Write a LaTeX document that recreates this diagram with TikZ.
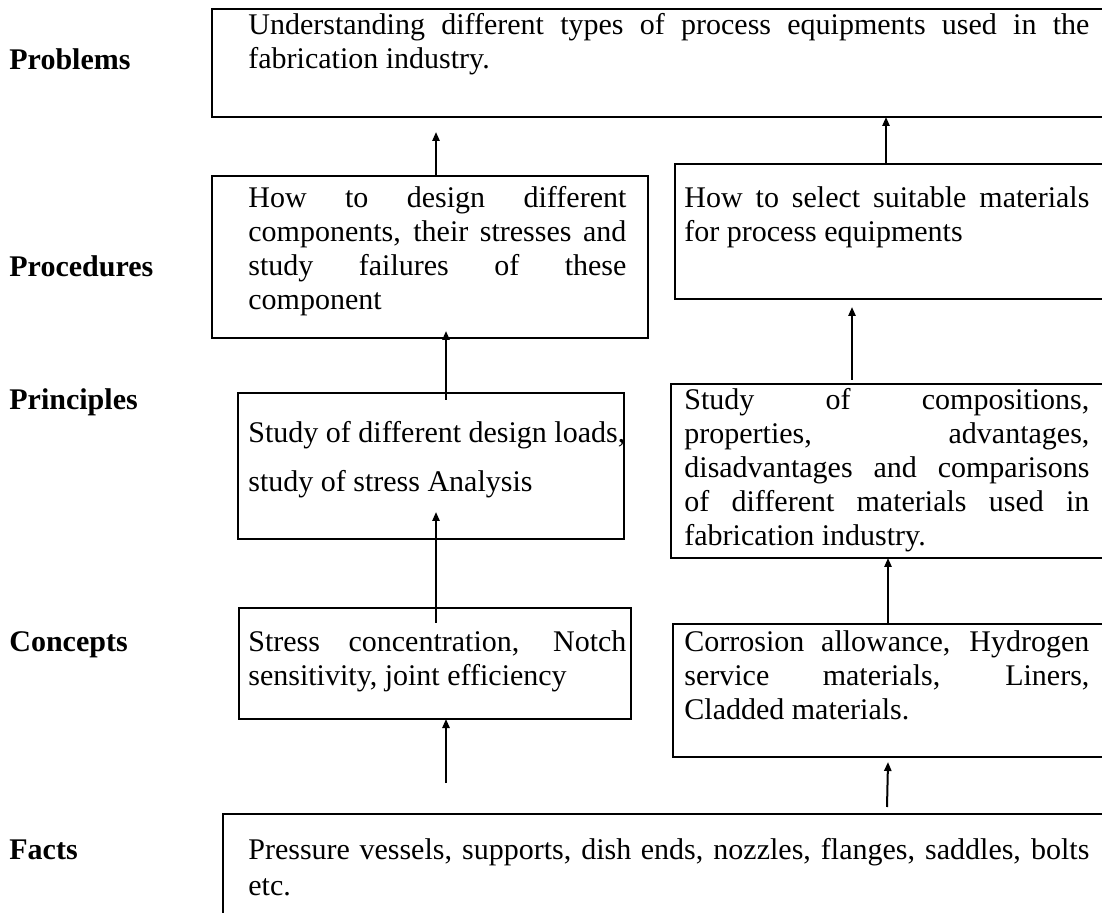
\documentclass[tikz,border=0pt]{standalone}
\usepackage{fontspec}
\setmainfont{Liberation Serif}
\usetikzlibrary{arrows.meta}
\newcommand{\jline}[1]{\makebox[\linewidth][s]{#1}\par}
\begin{document}
\begin{tikzpicture}[x=0.5pt,y=-0.5pt,
  bx/.style={draw,line width=1.2pt,rectangle,anchor=north west,inner sep=0pt,outer sep=0pt},
  txt/.style={anchor=base west,inner sep=0pt,font=\fontsize{15pt}{17pt}\selectfont},
  lbl/.style={anchor=base west,inner sep=0pt,font=\fontsize{15pt}{17pt}\selectfont\bfseries},
  arr/.style={line width=1pt,-{Triangle[length=4.5pt,width=3.6pt]}}]
\useasboundingbox (0,0) rectangle (1102,913);
\clip (0,0) rectangle (1102,913);

% level labels
\node[lbl] (lprob) at (9,70) {Problems};
\node[lbl] (lproc) at (9,277) {Procedures};
\node[lbl] (lprin) at (9,410) {Principles};
\node[lbl] (lconc) at (9,652) {Concepts};
\node[lbl] (lfact) at (9,859) {Facts};

% boxes
\node[bx, minimum width=494pt, minimum height=54pt] (prob) at (212,9) {};
\node[bx, minimum width=218pt, minimum height=81pt] (procL) at (212,176) {};
\node[bx, minimum width=262.5pt, minimum height=67.5pt] (procR) at (675,164) {};
\node[bx, minimum width=193pt, minimum height=73pt] (prinL) at (238,393) {};
\node[bx, minimum width=264.5pt, minimum height=87pt] (prinR) at (671,384) {};
\node[bx, minimum width=196pt, minimum height=55.5pt] (concL) at (239,608) {};
\node[bx, minimum width=263.5pt, minimum height=66.5pt] (concR) at (673,624) {};
\node[bx, minimum width=488.5pt, minimum height=93pt] (facts) at (223,814) {};

% texts
\node[txt] (probT) at (248,35) {\parbox[t]{420.5pt}{%
  \jline{Understanding different types of process equipments used in the}
  fabrication industry.\par}};
\node[txt] (procLT) at (248,208) {\parbox[t]{189pt}{%
  \jline{How to design different}
  \jline{components, their stresses and}
  \jline{study failures of these}
  component\par}};
\node[txt] (procRT) at (684,208) {\parbox[t]{202.5pt}{%
  \jline{How to select suitable materials}
  for process equipments\par}};
\node[txt, font=\fontsize{15pt}{24.5pt}\selectfont] (prinLT) at (248,443) {\parbox[t]{200pt}{%
  Study of different design loads,\par
  study of stress Analysis\par}};
\node[txt] (prinRT) at (684,410) {\parbox[t]{202.5pt}{%
  \jline{Study of compositions,}
  \jline{properties, advantages,}
  \jline{disadvantages and comparisons}
  \jline{of different materials used in}
  fabrication industry.\par}};
\node[txt] (concLT) at (248,652) {\parbox[t]{189pt}{%
  \jline{Stress concentration, Notch}
  sensitivity, joint efficiency\par}};
\node[txt] (concRT) at (684,652) {\parbox[t]{202.5pt}{%
  \jline{Corrosion allowance, Hydrogen}
  \jline{service materials, Liners,}
  Cladded materials.\par}};
\node[txt, font=\fontsize{15pt}{18pt}\selectfont] (factT) at (248,859) {\parbox[t]{420.5pt}{%
  \jline{Pressure vessels, supports, dish ends, nozzles, flanges, saddles, bolts}
  etc.\par}};

% arrow columns
\coordinate (c1) at (436,0);
\coordinate (c2) at (886,0);
\coordinate (c3) at (446,0);
\coordinate (c4) at (852,0);
\coordinate (c5) at (436,0);
\coordinate (c6) at (888,0);
\coordinate (c7) at (446,0);
\coordinate (c8) at (888,0);

% free ends
\coordinate (e1) at (436,132);
\coordinate (s3) at (446,400);
\coordinate (e3) at (446,331);
\coordinate (s4) at (852,380);
\coordinate (e4) at (852,307);
\coordinate (s5) at (436,623);
\coordinate (e5) at (436,512);
\coordinate (s7) at (446,783);
\coordinate (s8) at (887,807);
\coordinate (e8) at (888,762);

% connectors
\draw[arr] (c1 |- procL.north) -- (e1);
\draw[arr] (c2 |- procR.north) -- (c2 |- prob.south);
\draw[arr] (s3) -- (e3);
\draw[arr] (s4) -- (e4);
\draw[arr] (s5) -- (e5);
\draw[arr] (c6 |- concR.north) -- (c6 |- prinR.south);
\draw[arr] (s7) -- (c7 |- concL.south);
\draw[arr] (s8) -- (e8);
\end{tikzpicture}
\end{document}
